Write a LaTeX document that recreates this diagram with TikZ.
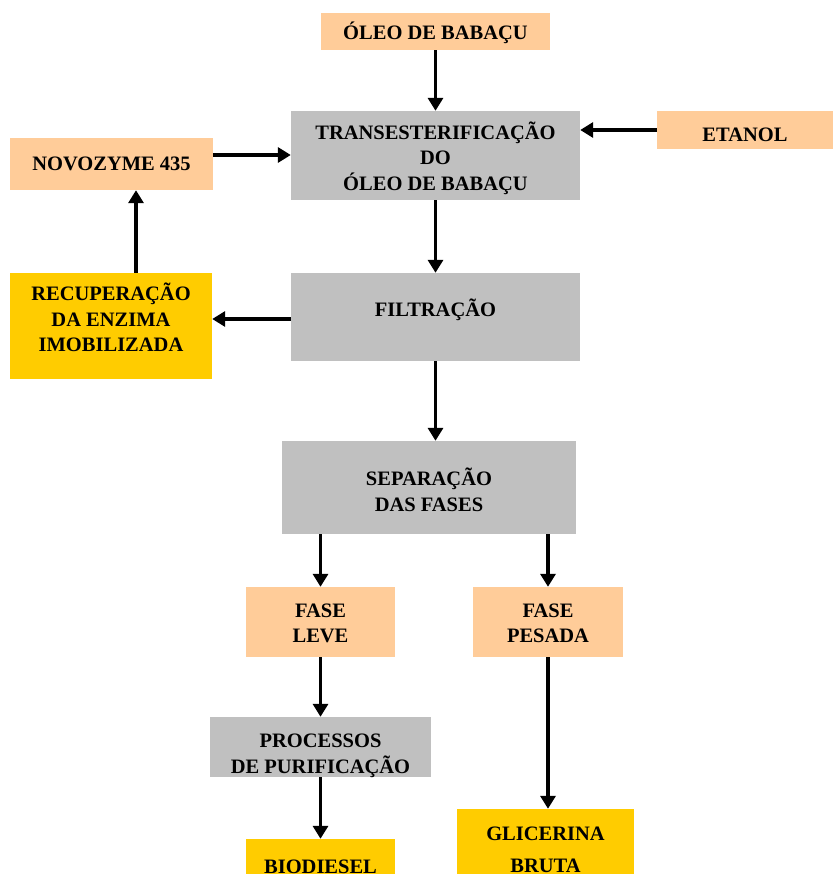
\documentclass[tikz,border=0pt]{standalone}
\usepackage{fontspec}
\setmainfont{Liberation Serif}
\usetikzlibrary{arrows.meta}
\definecolor{pessego}{HTML}{FFCC99}
\definecolor{cinza}{HTML}{C0C0C0}
\definecolor{ouro}{HTML}{FFCC00}
\newcommand{\subir}[2]{\raisebox{0pt}[\height][\dimexpr\depth+2\dimexpr#1\relax\relax]{\begin{tabular}{@{}c@{}}#2\end{tabular}}}
\newcommand{\descer}[2]{\raisebox{0pt}[\dimexpr\height+2\dimexpr#1\relax\relax][\depth]{\begin{tabular}{@{}c@{}}#2\end{tabular}}}

\begin{document}
\begin{tikzpicture}[x=1pt, y=-1pt,
    caixa/.style={inner sep=0pt, align=center, font=\fontsize{20.5}{25.5}\selectfont\bfseries},
    insumo/.style={caixa, fill=pessego},
    etapa/.style={caixa, fill=cinza},
    produto/.style={caixa, fill=ouro},
    seta/.style={line width=3.5pt, -{Triangle[length=13pt, width=15pt]}}]
    \useasboundingbox (0, 0) rectangle (833, 874);
    \clip (0, 0) rectangle (833, 874);
    \node[insumo, minimum width=229, minimum height=37] (oleo) at (435.5, 31.5) {\descer{3pt}{ÓLEO DE BABAÇU}};
    \node[etapa, minimum width=289, minimum height=89] (trans) at (435.5, 155.5) {\descer{4pt}{TRANSESTERIFICAÇÃO\\DO\\ÓLEO DE BABAÇU}};
    \node[insumo, minimum width=176, minimum height=36] (etanol) at (745, 130) {\descer{6pt}{ETANOL}};
    \node[insumo, minimum width=203, minimum height=52] (novo) at (111.5, 164) {NOVOZYME 435};
    \node[produto, minimum width=202, minimum height=106] (recup) at (111, 326) {\subir{5pt}{RECUPERAÇÃO\\DA ENZIMA\\IMOBILIZADA}};
    \node[etapa, minimum width=289, minimum height=88] (filt) at (435.5, 317) {\subir{6pt}{FILTRAÇÃO}};
    \node[etapa, minimum width=294, minimum height=93] (sep) at (429, 487.5) {\descer{6pt}{SEPARAÇÃO\\DAS FASES}};
    \node[insumo, minimum width=149, minimum height=70] (leve) at (320.5, 622) {\descer{3pt}{FASE\\LEVE}};
    \node[insumo, minimum width=150, minimum height=70] (pesada) at (548, 622) {\descer{3pt}{FASE\\PESADA}};
    \node[etapa, minimum width=221, minimum height=60] (purif) at (320.5, 747) {\raisebox{-13.5pt}[0pt][0pt]{\begin{tabular}{@{}c@{}}PROCESSOS\\DE PURIFICAÇÃO\end{tabular}}};
    \node[produto, minimum width=149, minimum height=56] (biod) at (320.5, 867) {BIODIESEL};
    \node[produto, minimum width=177, minimum height=82] (glic) at (545.5, 850) {GLICERINA\\[7pt]BRUTA};
    \draw[seta] (oleo) -- (trans);
    \draw[seta] (etanol.west) -- (etanol.west -| trans.east);
    \draw[seta] ([yshift=9pt]novo.east) -- ([yshift=9pt]novo.east -| trans.west);
    \draw[seta] ([xshift=25pt]recup.north) -- ([xshift=25pt]recup.north |- novo.south);
    \draw[seta] ([yshift=-2pt]filt.west) -- ([yshift=-2pt]filt.west -| recup.east);
    \draw[seta] (trans) -- (filt);
    \draw[seta] (filt.south) -- (filt.south |- sep.north);
    \draw[seta] (leve.north |- sep.south) -- (leve);
    \draw[seta] (pesada.north |- sep.south) -- (pesada);
    \draw[seta] (leve) -- (purif);
    \draw[seta] (purif) -- (biod);
    \draw[seta] ([xshift=2.5pt]glic.north |- pesada.south) -- ([xshift=2.5pt]glic.north);
\end{tikzpicture}
\end{document}
